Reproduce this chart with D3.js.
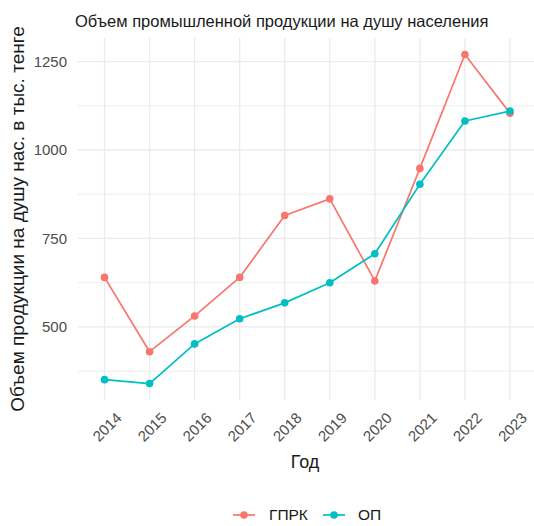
<!DOCTYPE html>
<html>
<head>
<meta charset="utf-8">
<script src="https://cdn.jsdelivr.net/npm/d3@7"></script>
<style>
  html, body { margin: 0; padding: 0; background: #fff; }
  svg { display: block; font-family: "Liberation Sans", Arial, sans-serif; }
</style>
</head>
<body>
<svg id="chart" width="534" height="526"></svg>
<script>
// ---- Data ----
const years = ["2014","2015","2016","2017","2018","2019","2020","2021","2022","2023"];
const gprk = [640, 430, 531, 640, 815, 862, 630, 948, 1270, 1104];
const op   = [351, 340, 452, 523, 568, 625, 707, 903, 1082, 1110];
const seriesNames = ["ГПРК", "ОП"];
const seriesColors = ["#F8766D", "#00BFC4"];
const yMajorTicks = [500, 750, 1000, 1250];
const yMinorTicks = [375, 625, 875, 1125];
const titleText = "Объем промышленной продукции на душу населения";
const xTitle = "Год";
const yTitle = "Объем продукции на душу нас. в тыс. тенге";

const series = [
  { name: seriesNames[0], color: seriesColors[0], values: gprk },
  { name: seriesNames[1], color: seriesColors[1], values: op }
];

const svg = d3.select("#chart");
const panel = { left: 77.5, right: 537, top: 38, bottom: 400 };

// Discrete x with ggplot-like 0.6 expansion
const xIdx = d3.scaleLinear().domain([-0.6, years.length - 1 + 0.6]).range([panel.left, panel.right]);
const x = d => xIdx(years.indexOf(d));

const allVals = gprk.concat(op);
const [vmin, vmax] = d3.extent(allVals);
const pad = (vmax - vmin) * 0.05;
const y = d3.scaleLinear().domain([vmin - pad, vmax + pad]).range([panel.bottom, panel.top]);

svg.append("defs").append("clipPath").attr("id", "pc")
  .append("rect").attr("x", panel.left).attr("y", panel.top)
  .attr("width", panel.right - panel.left).attr("height", panel.bottom - panel.top);

const grid = svg.append("g").attr("clip-path", "url(#pc)");
grid.selectAll("line.minor").data(yMinorTicks).enter().append("line")
  .attr("x1", panel.left).attr("x2", panel.right)
  .attr("y1", d => y(d)).attr("y2", d => y(d))
  .attr("stroke", "#EEEEEE").attr("stroke-width", 1);
grid.selectAll("line.major").data(yMajorTicks).enter().append("line")
  .attr("x1", panel.left).attr("x2", panel.right)
  .attr("y1", d => y(d)).attr("y2", d => y(d))
  .attr("stroke", "#EBEBEB").attr("stroke-width", 1.3);
grid.selectAll("line.vx").data(years).enter().append("line")
  .attr("x1", d => x(d)).attr("x2", d => x(d))
  .attr("y1", panel.top).attr("y2", panel.bottom)
  .attr("stroke", "#EBEBEB").attr("stroke-width", 1.3);

// lines and points
const line = d3.line().x((d, i) => x(years[i])).y(d => y(d));
const plot = svg.append("g");
series.forEach(s => {
  plot.append("path").datum(s.values)
    .attr("d", line).attr("fill", "none")
    .attr("stroke", s.color).attr("stroke-width", 1.7)
    .attr("stroke-linejoin", "round");
  plot.selectAll(null).data(s.values).enter().append("circle")
    .attr("cx", (d, i) => x(years[i])).attr("cy", d => y(d))
    .attr("r", 3.8).attr("fill", s.color);
});

// y axis tick labels
svg.append("g").selectAll("text").data(yMajorTicks).enter().append("text")
  .attr("x", 67).attr("y", d => y(d)).attr("dy", "0.35em")
  .attr("text-anchor", "end").attr("font-size", 15).attr("fill", "#4D4D4D")
  .text(d => d);

// x axis tick labels (rotated 45)
svg.append("g").selectAll("text").data(years).enter().append("text")
  .attr("transform", d => `translate(${x(d) + 2.5},${427}) rotate(-45)`)
  .attr("text-anchor", "middle").attr("dy", "0.35em")
  .attr("font-size", 15).attr("fill", "#4D4D4D")
  .text(d => d);

// axis titles
svg.append("text").attr("x", 305).attr("y", 462).attr("dy", "0.35em")
  .attr("text-anchor", "middle").attr("font-size", 18).attr("fill", "#1A1A1A")
  .text(xTitle);
svg.append("text").attr("transform", `translate(17.5,${(panel.top + panel.bottom) / 2}) rotate(-90)`)
  .attr("text-anchor", "middle").attr("dy", "0.35em").attr("font-size", 19).attr("fill", "#1A1A1A")
  .text(yTitle);

// title
svg.append("text").attr("x", 75).attr("y", 21).attr("dy", "0.35em")
  .attr("font-size", 16.5).attr("fill", "#1A1A1A").text(titleText);

// legend
const legendY = 515;
const legendItems = [
  { x0: 233, tx: 269 },
  { x0: 323, tx: 358 }
];
const lg = svg.append("g");
series.forEach((s, i) => {
  const it = legendItems[i];
  lg.append("line").attr("x1", it.x0).attr("x2", it.x0 + 22)
    .attr("y1", legendY).attr("y2", legendY)
    .attr("stroke", s.color).attr("stroke-width", 1.7);
  lg.append("circle").attr("cx", it.x0 + 11).attr("cy", legendY).attr("r", 3.8).attr("fill", s.color);
  lg.append("text").attr("x", it.tx).attr("y", legendY).attr("dy", "0.35em")
    .attr("font-size", 15.5).attr("fill", "#1A1A1A").text(s.name);
});
</script>
</body>
</html>
